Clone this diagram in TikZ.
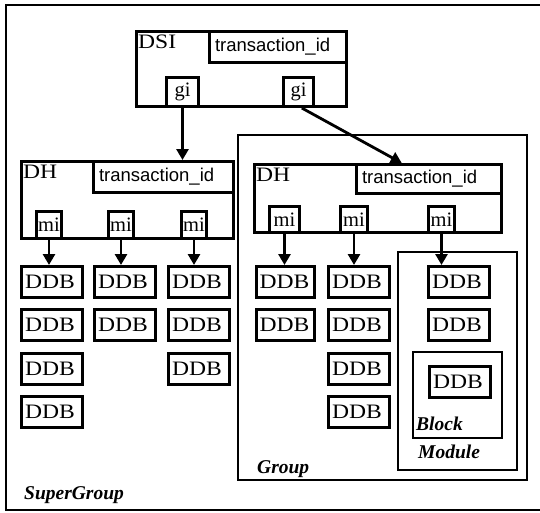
\documentclass[tikz,border=0pt]{standalone}
\usepackage{fontspec}
\setmainfont{Liberation Serif}
\newfontfamily\wser{Liberation Serif}[FakeStretch=1.15]
\newfontfamily\asans{Liberation Sans}
\usetikzlibrary{arrows.meta,calc}
\tikzset{
  box/.style={draw, line width=3pt, anchor=north west, inner sep=0pt, rectangle},
  ddb/.style={box, minimum width=61pt, minimum height=31pt, text width=54pt, align=left,
    font=\wser\fontsize{20.5}{22}\selectfont},
  tid/.style={box, font=\asans\fontsize{18.5}{20}\selectfont, text width=#1, align=left, minimum height=31pt},
  port/.style={box, font=\fontsize{20.5}{22}\selectfont, minimum height=29pt},
  frame/.style={draw, line width=2.6pt},
  lbl/.style={anchor=base west, inner sep=0pt, font=\bfseries\itshape\fontsize{19.5}{21}\selectfont},
  title/.style={anchor=north west, inner sep=0pt, font=\wser\fontsize{20.5}{22}\selectfont},
  arr/.style={line width=2.8pt, -{Triangle[width=12pt,length=11pt]}},
}
\begin{document}
\begin{tikzpicture}[x=1pt,y=-1pt]
\useasboundingbox (0,0) rectangle (540,512);
\fill[white] (0,0) rectangle (540,512);
% outer SuperGroup frame
\draw[line width=2.2pt] (560,5) -- (6,5) -- (6,510) -- (560,510);
\node[lbl] (sg) at (24,499) {SuperGroup};
% Group frame
\draw[frame] (238,135) rectangle (527,480);
\node[lbl] (grp) at (257,473) {Group};
% Module and Block
\draw[frame] (398,252) rectangle (517,470);
\node[lbl] (mod) at (418,458) {Module};
\draw[frame] (413,352) rectangle (502,438);
\node[lbl] (blk) at (416,430) {Block};

% DSI
\node[box, minimum width=210pt, minimum height=75pt] (dsi) at (135,30) {};
\node[title] (dsit) at (138,35) {DSI};
\node[tid=132pt, minimum width=137pt] (dsitid) at (208,30) {\hspace*{3pt}transaction\_id};
\node[port, minimum width=32pt] (gi1) at (165,76) {gi};
\node[port, minimum width=30pt] (gi2) at (282,76) {gi};

% left DH
\node[box, minimum width=212pt, minimum height=77pt] (dh1) at (20,160) {};
\node[title] (dh1t) at (23,165) {DH};
\node[tid=135pt, minimum width=140pt] (dh1tid) at (92,160) {\hspace*{3pt}transaction\_id};
\node[port, minimum width=25pt, minimum height=27pt] (m11) at (35,210) {mi};
\node[port, minimum width=25pt, minimum height=27pt] (m12) at (107,210) {mi};
\node[port, minimum width=25pt, minimum height=27pt] (m13) at (180,210) {mi};

% right DH
\node[box, minimum width=247pt, minimum height=68pt] (dh2) at (253,163) {};
\node[title] (dh2t) at (256,168) {DH};
\node[tid=140pt, minimum width=145pt, minimum height=29pt] (dh2tid) at (355,163) {\hspace*{3pt}transaction\_id};
\node[port, minimum width=30pt, minimum height=26pt] (m21) at (268,205) {mi};
\node[port, minimum width=27pt, minimum height=26pt] (m22) at (339,205) {mi};
\node[port, minimum width=26pt, minimum height=26pt] (m23) at (427,205) {mi};

% left DDBs
\node[ddb] (a1) at (20,265) {DDB};
\node[ddb] (a2) at (20,308) {DDB};
\node[ddb] (a3) at (20,352) {DDB};
\node[ddb] (a4) at (20,395) {DDB};
\node[ddb] (b1) at (93,265) {DDB};
\node[ddb] (b2) at (93,308) {DDB};
\node[ddb] (c1) at (167,265) {DDB};
\node[ddb] (c2) at (167,308) {DDB};
\node[ddb] (c3) at (167,352) {DDB};

% right DDBs
\node[ddb, minimum width=58pt, text width=52pt] (d1) at (255,265) {DDB};
\node[ddb, minimum width=58pt, text width=52pt] (d2) at (255,308) {DDB};
\node[ddb] (e1) at (327,265) {DDB};
\node[ddb] (e2) at (327,308) {DDB};
\node[ddb] (e3) at (327,352) {DDB};
\node[ddb] (e4) at (327,395) {DDB};
\node[ddb] (f1) at (427,265) {DDB};
\node[ddb] (f2) at (427,308) {DDB};
\node[ddb] (g1) at (428,365) {DDB};

% arrows
\draw[arr] (gi1.south) -- (gi1.south |- dh1.north);
\draw[arr] ($(gi2.south west)!0.6!(gi2.south east)$) -- ($(dh2.north west)!0.595!(dh2.north east)$);
\draw[arr] (m11.south) -- (m11.south |- a1.north);
\draw[arr] (m12.south) -- (m12.south |- b1.north);
\draw[arr] (m13.south) -- (m13.south |- c1.north);
\draw[arr] (m21.south) -- (m21.south |- d1.north);
\draw[arr] (m22.south) -- (m22.south |- e1.north);
\draw[arr] (m23.south) -- (m23.south |- f1.north);
\end{tikzpicture}
\end{document}
